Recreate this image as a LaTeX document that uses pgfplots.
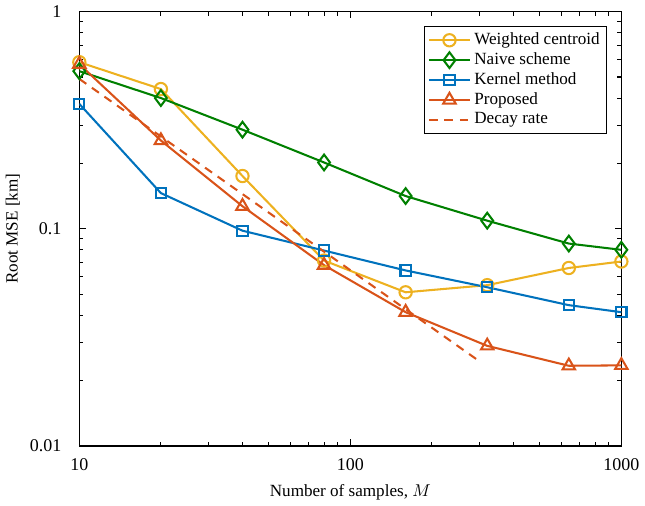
\documentclass[border=0pt]{standalone}
\usepackage{pgfplots}
\pgfplotsset{compat=1.18}
\usepackage{fontspec}
\setmainfont{Liberation Serif}
\definecolor{myblue}{rgb}{0,0.447,0.741}
\definecolor{myred}{rgb}{0.85,0.325,0.098}
\definecolor{myyellow}{rgb}{0.929,0.694,0.125}
\definecolor{mygreen}{rgb}{0,0.5,0}
\begin{document}
\begin{tikzpicture}
\begin{loglogaxis}[
  scale only axis,
  width=317pt, height=254pt,
  xmin=10, xmax=1000, ymin=0.01, ymax=1,
  xtick={10,100,1000}, xticklabels={10,100,1000},
  ytick={0.01,0.1,1}, yticklabels={0.01,0.1,1},
  /pgf/number format/assume math mode=true,
  ticklabel style={font=\fontsize{10.5}{12}\selectfont},
  xticklabel style={yshift=-4pt},
  yticklabel style={xshift=-7pt},
  xlabel={Number of samples, $M$},
  ylabel={Root MSE [km]},
  axis line style={line width=0.9pt},
  tick style={line width=0.6pt, black},
  major tick length=4pt, minor tick length=2.3pt,
  tick align=inside,
  xlabel style={yshift=-1pt},
  ylabel style={yshift=-1pt},
  legend style={at={(0.974,0.968)}, anchor=north east, draw=black, line width=0.8pt, font=\normalsize, row sep=-0.8pt, inner sep=2pt},
  legend cell align=left,
  legend image code/.code={\draw[mark repeat=2,mark phase=2,#1] plot coordinates {(0cm,0cm) (0.42cm,0cm) (0.84cm,0cm)};},
  every axis plot/.append style={line width=1.2pt},
]
\addplot[myyellow, mark=o, mark size=3.6pt, mark options={line width=1.2pt}] coordinates {
(10,0.585) (20,0.44) (40,0.175) (80,0.0714) (160,0.051) (320,0.055) (640,0.066) (1000,0.0707)};
\addlegendentry{Weighted centroid}
\addplot[mygreen, mark=diamond, mark size=4.6pt, mark options={line width=1.2pt}] coordinates {
(10,0.532) (20,0.40) (40,0.286) (80,0.202) (160,0.1415) (320,0.109) (640,0.0855) (1000,0.080)};
\addlegendentry{Naive scheme}
\addplot[myblue, mark=square, mark size=3.0pt, mark options={line width=1.2pt}] coordinates {
(10,0.376) (20,0.146) (40,0.098) (80,0.0794) (160,0.0643) (320,0.0538) (640,0.0445) (1000,0.0413)};
\addlegendentry{Kernel method}
\addplot[myred, mark=triangle, mark size=4.2pt, mark options={line width=1.2pt}] coordinates {
(10,0.573) (20,0.255) (40,0.127) (80,0.068) (160,0.0413) (320,0.0289) (640,0.0234) (1000,0.0235)};
\addlegendentry{Proposed}
\addplot[myred, dashed, dash pattern=on 5pt off 4pt] coordinates {
(10,0.49) (300,0.0245)};
\addlegendentry{Decay rate}
\end{loglogaxis}
\end{tikzpicture}
\end{document}
